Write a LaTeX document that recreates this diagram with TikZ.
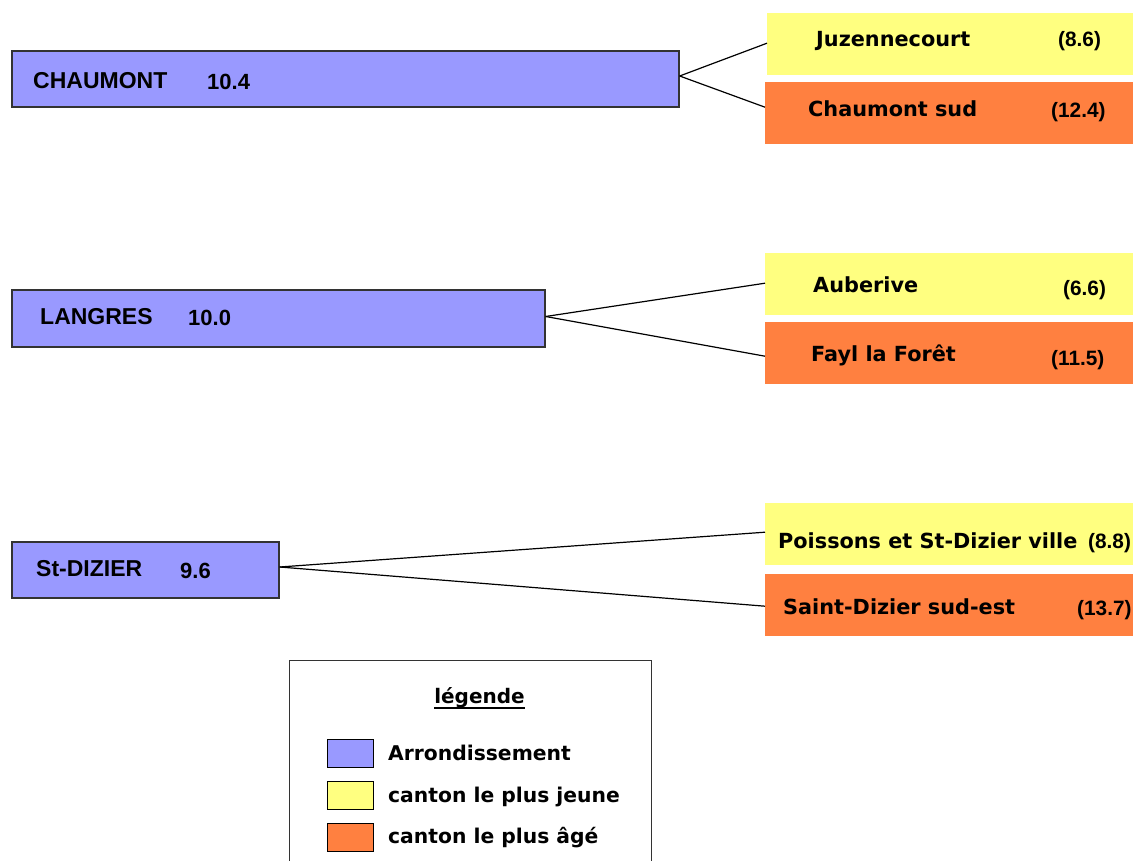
\documentclass[tikz,border=0pt]{standalone}
\usepackage{fontspec}
\newfontfamily\dvfont{DejaVu Sans}
\newfontfamily\lbfont{Liberation Sans}
\definecolor{arrblue}{HTML}{9999FF}
\definecolor{jeune}{HTML}{FFFF80}
\definecolor{age}{HTML}{FF8040}
\begin{document}
\begin{tikzpicture}[x=1pt,y=-1pt,
  arr/.style={draw=black!80, fill=arrblue, line width=1.3pt, inner sep=0pt},
  cjeune/.style={fill=jeune, inner sep=0pt, minimum width=390pt, minimum height=62pt},
  cage/.style={fill=age, inner sep=0pt, minimum width=390pt, minimum height=62pt},
  swatch/.style={draw=black, line width=1.3pt, inner sep=0pt, minimum width=46pt, minimum height=28pt},
  ctxt/.style={anchor=base west, inner sep=0pt, font=\dvfont\bfseries\fontsize{20.8}{24}\selectfont},
  ntxt/.style={anchor=base west, inner sep=0pt, font=\lbfont\bfseries\fontsize{20.8}{24}\selectfont},
  atxt/.style={anchor=base west, inner sep=0pt, font=\lbfont\bfseries\fontsize{23}{26}\selectfont},
  antxt/.style={anchor=base west, inner sep=0pt, font=\lbfont\bfseries\fontsize{22}{26}\selectfont},
  ltxt/.style={anchor=base west, inner sep=0pt, font=\dvfont\bfseries\fontsize{20.3}{24}\selectfont},
  conn/.style={draw=black, line width=1.2pt}]
\clip (0,0) rectangle (1133,861);
\fill[white] (0,0) rectangle (1133,861);

% arrondissements
\node[arr, minimum width=667pt, minimum height=56pt] (chau) at (345.5,79) {};
\node[arr, minimum width=533pt, minimum height=57pt] (lang) at (278.5,318.5) {};
\node[arr, minimum width=267pt, minimum height=56pt] (stdz) at (145.5,570) {};
\node[atxt] (chaut) at (33,89) {CHAUMONT};
\node[antxt] (chaun) at (207,90) {10.4};
\node[atxt] (langt) at (40,324) {LANGRES};
\node[antxt] (langn) at (188,325) {10.0};
\node[atxt] (stdzt) at (36,576) {St-DIZIER};
\node[antxt] (stdzn) at (180,578) {9.6};

% cantons
\node[cjeune, anchor=north west] (juz) at (767,13) {};
\node[cage, anchor=north west] (chs) at (765,82) {};
\node[cjeune, anchor=north west] (aub) at (765,253) {};
\node[cage, anchor=north west] (fayl) at (765,322) {};
\node[cjeune, anchor=north west] (pois) at (765,503) {};
\node[cage, anchor=north west] (sdse) at (765,574) {};

\node[ctxt] (juzt) at (816,47) {Juzennecourt};
\node[ntxt] (juzn) at (1058,47) {(8.6)};
\node[ctxt] (chst) at (808,117) {Chaumont sud};
\node[ntxt] (chsn) at (1051,118) {(12.4)};
\node[ctxt] (aubt) at (813,292) {Auberive};
\node[ntxt] (aubn) at (1063,295) {(6.6)};
\node[ctxt] (faylt) at (811,361) {Fayl la Forêt};
\node[ntxt] (fayln) at (1051,365) {(11.5)};
\node[ctxt] (poist) at (778,548) {Poissons et St-Dizier ville};
\node[ntxt] (poisn) at (1088,548) {(8.8)};
\node[ctxt] (sdset) at (783,614) {Saint-Dizier sud-est};
\node[ntxt] (sdsen) at (1077,615) {(13.7)};

% connectors
\draw[conn] ([yshift=3pt]chau.east) -- ([yshift=1pt]juz.west);
\draw[conn] ([yshift=3pt]chau.east) -- ([yshift=6pt]chs.west);
\draw[conn] ([yshift=2pt]lang.east) -- ([yshift=1pt]aub.west);
\draw[conn] ([yshift=2pt]lang.east) -- ([yshift=-3pt]fayl.west);
\draw[conn] ([yshift=3pt]stdz.east) -- ([yshift=2pt]pois.west);
\draw[conn] ([yshift=3pt]stdz.east) -- ([yshift=-1pt]sdse.west);

% legend
\node[draw=black!80, line width=1.3pt, fill=white, inner sep=0pt, minimum width=362pt, minimum height=230pt, anchor=north west] (leg) at (289,660) {};
\node[anchor=base, inner sep=0pt, font=\dvfont\bfseries\fontsize{20}{24}\selectfont] (legt) at (479.5,703) {légende};
\draw[line width=1.3pt] ([yshift=-5pt]legt.base west) -- ([yshift=-5pt]legt.base east);
\node[swatch, fill=arrblue, anchor=north west] (s1) at (327,739) {};
\node[swatch, fill=jeune, anchor=north west] (s2) at (327,781) {};
\node[swatch, fill=age, anchor=north west] (s3) at (327,823) {};
\node[ltxt] (l1) at (388,760) {Arrondissement};
\node[ltxt] (l2) at (388,802) {canton le plus jeune};
\node[ltxt] (l3) at (388,843) {canton le plus âgé};
\end{tikzpicture}
\end{document}
